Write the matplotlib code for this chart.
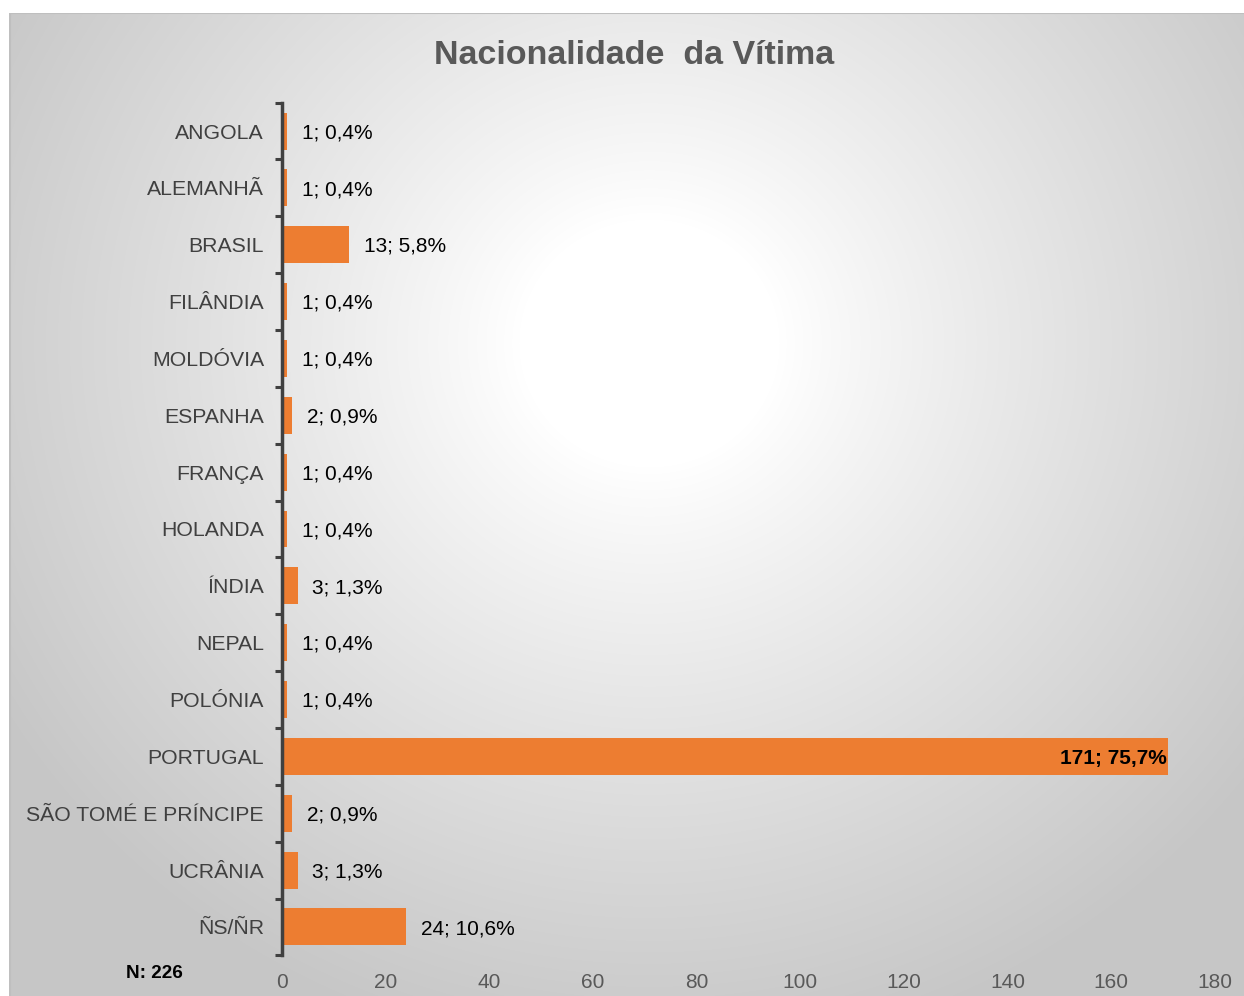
import numpy as np
import matplotlib
matplotlib.use("Agg")
import matplotlib.pyplot as plt

categories = ["ANGOLA", "ALEMANHÃ", "BRASIL", "FILÂNDIA", "MOLDÓVIA", "ESPANHA",
              "FRANÇA", "HOLANDA", "ÍNDIA", "NEPAL", "POLÓNIA", "PORTUGAL",
              "SÃO TOMÉ E PRÍNCIPE", "UCRÂNIA", "ÑS/ÑR"]
counts = [1, 1, 13, 1, 1, 2, 1, 1, 3, 1, 1, 171, 2, 3, 24]
percents = ["0,4", "0,4", "5,8", "0,4", "0,4", "0,9", "0,4", "0,4", "1,3", "0,4",
            "0,4", "75,7", "0,9", "1,3", "10,6"]
xticks = [0, 20, 40, 60, 80, 100, 120, 140, 160, 180]
title = "Nacionalidade  da Vítima"
note = "N: 226"

plt.rcParams['font.family'] = ['Liberation Sans', 'DejaVu Sans']

W, H = 1244, 996
fig = plt.figure(figsize=(W / 100, H / 100), dpi=100)
fig.patch.set_facecolor("white")

# background chart area with radial gradient
x0, y0top = 9, 13
bg = fig.add_axes([x0 / W, 0, (W - x0) / W, (H - y0top) / H], zorder=0)
gw, gh = W - x0, H - y0top
yy, xx = np.mgrid[0:gh, 0:gw]
cx, cy = 640, 330
d = np.sqrt((xx - cx) ** 2 + ((yy - cy) * 1.05) ** 2)
t = np.clip((d - 130) / 620, 0, 1)
v = 1.0 - 0.22 * t ** 0.9
img = np.dstack([v, v, v])
bg.imshow(img, aspect="auto", extent=[0, gw, gh, 0], interpolation="bilinear")
bg.set_xlim(0, gw)
bg.set_ylim(gh, 0)
bg.axis("off")
bg.plot([0, gw], [0.5, 0.5], color="#BFBFBF", lw=1.5)
bg.plot([0.5, 0.5], [0, gh], color="#BFBFBF", lw=1.5)

# main axes
left = 282 / W
right = 1215 / W
bottom = (H - 955.4) / H
top = (H - 102.6) / H
ax = fig.add_axes([left, bottom, right - left, top - bottom], zorder=1)
ax.patch.set_alpha(0)

n = len(categories)
ypos = np.arange(n)
ax.barh(ypos, counts, height=0.65, color="#ED7D31", zorder=2)
ax.set_ylim(n - 0.5, -0.5)
ax.set_xlim(0, 180)
ax.set_xticks(xticks)
ax.set_xticklabels([str(x) for x in xticks], fontsize=15, color="#595959")
ax.tick_params(axis="x", length=0, pad=13)
ax.set_yticks(ypos)
ax.set_yticklabels(categories, fontsize=15.3, color="#404040")
ax.tick_params(axis="y", which="major", length=0, pad=13)
ax.set_yticks(np.arange(-0.5, n, 1.0), minor=True)
ax.tick_params(axis="y", which="minor", length=5, width=2.2, color="#404040")
for s in ["top", "right", "bottom"]:
    ax.spines[s].set_visible(False)
ax.spines["left"].set_color("#404040")
ax.spines["left"].set_linewidth(2.5)

for i, (c, p) in enumerate(zip(counts, percents)):
    lab = f"{c}; {p}%"
    if c == max(counts):
        ax.annotate(lab, xy=(c, i), xytext=(-1, -1.2), textcoords="offset points",
                    ha="right", va="center", fontsize=15, fontweight="bold",
                    color="black", zorder=3)
    else:
        ax.annotate(lab, xy=(c, i), xytext=(10.5, -1.2), textcoords="offset points",
                    ha="left", va="center", fontsize=15, color="black", zorder=3)

fig.text(634 / W, 1 - 55 / H, title, ha="center", va="center", fontsize=24.5,
         fontweight="bold", color="#595959")
fig.text(154 / W, 1 - 973 / H, note, ha="center", va="center", fontsize=13.6,
         fontweight="bold", color="black")

fig.savefig("out.png", dpi=100)
